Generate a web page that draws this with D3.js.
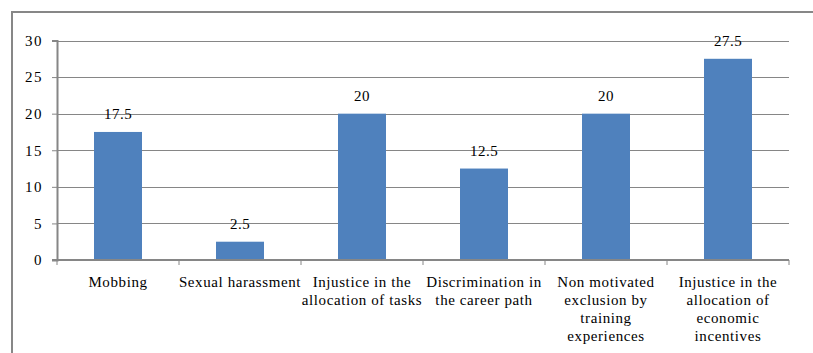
<!DOCTYPE html>
<html>
<head>
<meta charset="utf-8">
<script src="https://cdn.jsdelivr.net/npm/d3@7"></script>
<style>
  html, body { margin: 0; padding: 0; background: #fff; }
  svg { display: block; }
</style>
</head>
<body>
<svg id="chart" width="813" height="353"></svg>
<script>
// Categories, each split into the lines it is printed on
const categories = [
  ["Mobbing"],
  ["Sexual harassment"],
  ["Injustice in the", "allocation of tasks"],
  ["Discrimination in", "the career path"],
  ["Non motivated", "exclusion by", "training", "experiences"],
  ["Injustice in the", "allocation of", "economic", "incentives"]
];
const values = [17.5, 2.5, 20, 12.5, 20, 27.5];
const yTicks = [0, 5, 10, 15, 20, 25, 30];

const FONT = "'Liberation Serif'";
const FS = 15;

const svg = d3.select("#chart");
const margin = { left: 57, right: 24, top: 40.5, bottom: 93 };
const W = 813, H = 353;

// Outer frame: left and top edges
svg.append("line").attr("x1", 12).attr("x2", 12).attr("y1", 11).attr("y2", H)
  .attr("stroke", "#878787").attr("stroke-width", 2);
svg.append("line").attr("x1", 11).attr("x2", W).attr("y1", 12).attr("y2", 12)
  .attr("stroke", "#878787").attr("stroke-width", 2);

const x = d3.scaleBand()
  .domain(d3.range(categories.length))
  .range([margin.left, 789])
  .paddingInner(0).paddingOuter(0);

const y = d3.scaleLinear().domain([0, 30]).range([260, margin.top]);

// Horizontal gridlines
svg.append("g").selectAll("line").data(yTicks.filter(d => d > 0)).join("line")
  .attr("x1", margin.left).attr("x2", 789)
  .attr("y1", d => Math.round(y(d)) + 0.5).attr("y2", d => Math.round(y(d)) + 0.5)
  .attr("stroke", "#868686").attr("stroke-width", 1);

// Y axis
const yAxis = svg.append("g")
  .attr("transform", `translate(${margin.left},0)`)
  .call(d3.axisLeft(y).tickValues(yTicks).tickSize(5).tickPadding(9));
yAxis.attr("font-family", null).attr("font-size", null);
yAxis.select(".domain").attr("stroke", "#868686").attr("stroke-width", 2);
yAxis.selectAll(".tick line").attr("stroke", "#868686").attr("stroke-width", 1);
yAxis.selectAll(".tick text")
  .style("font-family", FONT).style("font-size", FS + "px")
  .style("letter-spacing", "1.5px").attr("fill", "#000");

// Bars
const barW = 48;
svg.append("g").selectAll("rect").data(values).join("rect")
  .attr("x", (d, i) => x(i) + x.bandwidth() / 2 - barW / 2)
  .attr("width", barW)
  .attr("y", d => y(d))
  .attr("height", d => y(0) - y(d))
  .attr("fill", "#4F81BD");

// X axis with category boundary ticks
const xAxisG = svg.append("g");
xAxisG.append("line")
  .attr("x1", margin.left - 5).attr("x2", 789)
  .attr("y1", y(0)).attr("y2", y(0))
  .attr("stroke", "#868686").attr("stroke-width", 2);
xAxisG.selectAll("line.tk").data(d3.range(categories.length + 1)).join("line")
  .attr("class", "tk")
  .attr("x1", i => margin.left + i * x.step()).attr("x2", i => margin.left + i * x.step())
  .attr("y1", y(0)).attr("y2", y(0) + 5)
  .attr("stroke", "#868686").attr("stroke-width", 1);

// Category labels
const lab = svg.append("g").selectAll("text").data(categories).join("text")
  .attr("text-anchor", "middle")
  .style("font-family", FONT).style("font-size", FS + "px")
  .style("letter-spacing", "0.6px").attr("fill", "#000")
  .attr("transform", (d, i) => `translate(${x(i) + x.bandwidth() / 2},287)`);
lab.selectAll("tspan").data(d => d).join("tspan")
  .attr("x", 0).attr("y", (d, j) => j * 18)
  .text(d => d);

// Value labels
svg.append("g").selectAll("text").data(values).join("text")
  .attr("text-anchor", "middle")
  .style("font-family", FONT).style("font-size", FS + "px")
  .style("letter-spacing", "0.5px").attr("fill", "#000")
  .attr("x", (d, i) => x(i) + x.bandwidth() / 2)
  .attr("y", d => y(d) - 13)
  .text(d => d);
</script>
</body>
</html>
